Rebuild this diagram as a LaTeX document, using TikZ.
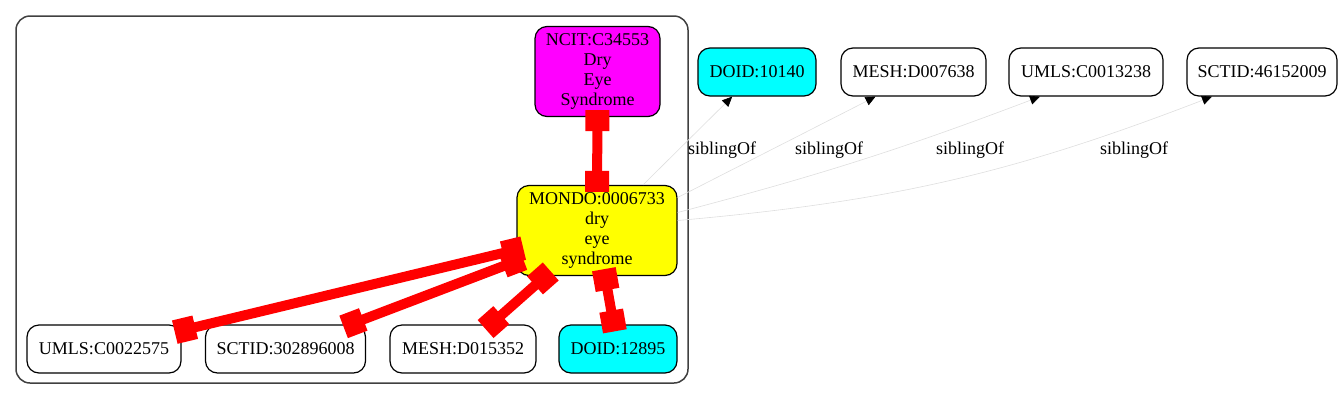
\documentclass[tikz,border=0pt]{standalone}
\usepackage{fontspec}
\setmainfont{Liberation Serif}
\usetikzlibrary{arrows.meta}
\definecolor{ncitfill}{RGB}{255,0,255}
\definecolor{mondofill}{RGB}{255,255,0}
\definecolor{doidfill}{RGB}{0,255,255}
\definecolor{xrefred}{RGB}{255,0,0}
\tikzset{
    term/.style={draw,rounded corners=12pt,minimum height=48pt,inner sep=0pt,align=center,line width=1.2pt,font=\fontsize{18}{19.8}\selectfont},
    xref/.style={xrefred,line width=10pt,shorten <=-7pt,shorten >=-7pt,{Square[length=21pt,width=24pt]}-{Square[length=21pt,width=24pt]}},
    sibling/.style={black!13,line width=0.6pt,-{Triangle[length=10pt,width=9pt,color=black]}},
    edgelabel/.style={font=\fontsize{18}{20}\selectfont}
}

\begin{document}
\begin{tikzpicture}[x=1pt,y=-1pt]
\useasboundingbox (0,0) rectangle (1343,400);
% cluster
\draw[line width=1.5pt,black!75,rounded corners=14pt] (16,16) rectangle (688,383);
% terms in the cluster
\node[term,fill=ncitfill,minimum width=125pt,minimum height=90pt] (ncit) at (597.5,71.5) {NCIT:C34553\\Dry\\Eye\\Syndrome};
\node[term,fill=mondofill,minimum width=160pt,minimum height=90pt] (mondo) at (597,230.5) {MONDO:0006733\\dry\\eye\\syndrome};
\node[term,minimum width=154pt] (umlsa) at (104,349) {UMLS:C0022575};
\node[term,minimum width=160pt] (sctida) at (285.5,349) {SCTID:302896008};
\node[term,minimum width=146pt] (mesha) at (463,349) {MESH:D015352};
\node[term,fill=doidfill,minimum width=118pt] (doida) at (618,349) {DOID:12895};
% siblings
\node[term,fill=doidfill,minimum width=118pt] (doidb) at (757,72) {DOID:10140};
\node[term,minimum width=145pt] (meshb) at (913.5,72) {MESH:D007638};
\node[term,minimum width=154pt] (umlsb) at (1086,72) {UMLS:C0013238};
\node[term,minimum width=150pt] (sctidb) at (1262,72) {SCTID:46152009};
% xrefs
\draw[xref] (mondo) -- (ncit);
\draw[xref] (mondo) -- (umlsa);
\draw[xref] (mondo) -- (sctida);
\draw[xref] (mondo) -- (mesha);
\draw[xref] (mondo) -- (doida);
% siblingOf
\draw[sibling] (mondo) -- (doidb);
\draw[sibling] ([yshift=33pt]mondo.east) -- ([xshift=-38pt]meshb.south);
\draw[sibling] ([yshift=18pt]mondo.east) to[bend right=3] ([xshift=-46pt]umlsb.south);
\draw[sibling] ([yshift=10pt]mondo.east) to[bend right=8] ([xshift=-50pt]sctidb.south);
\node[edgelabel] (la) at (722,150) {siblingOf};
\node[edgelabel] (lb) at (829,150) {siblingOf};
\node[edgelabel] (lc) at (970,150) {siblingOf};
\node[edgelabel] (ld) at (1134,150) {siblingOf};
\end{tikzpicture}
\end{document}
